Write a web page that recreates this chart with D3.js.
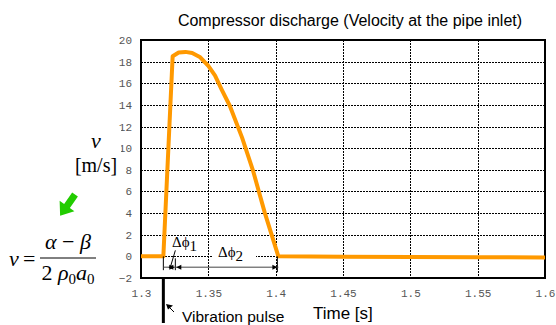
<!DOCTYPE html>
<html><head><meta charset="utf-8">
<script src="https://cdn.jsdelivr.net/npm/d3@7"></script>
<style>body{margin:0;background:#fff}svg{display:block}</style>
</head><body><svg id="c" width="556" height="325"></svg>
<script>
const time = [1.3, 1.3166, 1.3235, 1.328, 1.333, 1.338, 1.344, 1.35, 1.355, 1.36, 1.366, 1.375, 1.383, 1.392, 1.402, 1.45, 1.5, 1.55, 1.6];
const velocity = [0, 0, 18.5, 18.85, 18.9, 18.8, 18.4, 17.6, 16.7, 15.4, 13.9, 11.0, 8.0, 4.0, 0, -0.03, -0.05, -0.08, -0.1];
const xTicks = [1.3, 1.35, 1.4, 1.45, 1.5, 1.55, 1.6];
const yTicks = [-2, 0, 2, 4, 6, 8, 10, 12, 14, 16, 18, 20];
const pulseTime = 1.3166, phi1End = 1.3255, phi2End = 1.402;
const title = "Compressor discharge (Velocity at the pipe inlet)";

const svg = d3.select("#c");
const L = 141, R = 545, T = 40, B = 278;
const x = d3.scaleLinear().domain([1.3, 1.6]).range([L, R]);
const y = d3.scaleLinear().domain([-2, 20]).range([B, T]);

// grid
const g = svg.append("g").attr("shape-rendering", "crispEdges");
g.selectAll(".vg").data(xTicks.slice(1, -1)).join("line")
  .attr("x1", d => Math.round(x(d)) + 0.5).attr("x2", d => Math.round(x(d)) + 0.5).attr("y1", T).attr("y2", B)
  .attr("stroke", "#000").attr("stroke-dasharray", "2,1");
g.selectAll(".hg").data(yTicks.slice(1, -1)).join("line")
  .attr("y1", d => Math.round(y(d)) + 0.5).attr("y2", d => Math.round(y(d)) + 0.5).attr("x1", L).attr("x2", R)
  .attr("stroke", "#000").attr("stroke-dasharray", "2,1");

// axes labels
const mono = "'Liberation Mono', 'Courier New', monospace";
const yAxis = d3.axisLeft(y).tickValues(yTicks).tickSize(0).tickPadding(9).tickFormat(d => d < 0 ? "\u2212" + Math.abs(d) : d);
const ya = svg.append("g").attr("transform", `translate(${L},0)`).call(yAxis);
ya.select(".domain").remove();
ya.selectAll("text").attr("font-family", mono).attr("font-size", 11).attr("fill", "#555");
const xAxis = d3.axisBottom(x).tickValues(xTicks).tickSize(0).tickPadding(11).tickFormat(d => String(d));
const xa = svg.append("g").attr("transform", `translate(0,${B})`).call(xAxis);
xa.select(".domain").remove();
xa.selectAll("text").attr("font-family", mono).attr("font-size", 11).attr("fill", "#555");

// frame
svg.append("rect").attr("x", L).attr("y", T).attr("width", R - L).attr("height", B - T)
  .attr("fill", "none").attr("stroke", "#000").attr("stroke-width", 2);

// data line
const line = d3.line().x((d, i) => x(time[i])).y(d => y(d));
svg.append("path").datum(velocity).attr("d", line)
  .attr("fill", "none").attr("stroke", "#FF9900").attr("stroke-width", 4).attr("stroke-linejoin", "round");

// dimension annotations
const ann = svg.append("g").attr("stroke", "#000").attr("stroke-width", 1);
const dimY = y(-1);
svg.append("rect").attr("x", 212).attr("y", y(0) - 12).attr("width", 44).attr("height", 20).attr("fill", "#fff");
ann.append("line").attr("x1", x(pulseTime)).attr("x2", x(pulseTime)).attr("y1", y(0)).attr("y2", dimY + 3);
ann.append("line").attr("x1", x(phi1End)).attr("x2", x(phi1End)).attr("y1", y(0) + 2).attr("y2", dimY + 3);
ann.append("line").attr("x1", x(phi2End) - 1).attr("x2", x(phi2End) - 1).attr("y1", y(0)).attr("y2", dimY + 5);
ann.append("line").attr("x1", x(pulseTime)).attr("x2", x(phi2End)).attr("y1", dimY).attr("y2", dimY).attr("stroke", "#444");
function arrow(px, dir) {
  svg.append("path").attr("d", `M${px},${dimY} l${-dir * 5},-2.5 l0,5 z`).attr("fill", "#000");
}
arrow(x(pulseTime) + 5, -1); arrow(x(phi1End) - 1, 1); arrow(x(phi1End) + 1, -1); arrow(x(phi2End) - 1, 1);
ann.append("line").attr("x1", x(pulseTime) + 12).attr("y1", y(0) - 6).attr("x2", x(pulseTime) + 7).attr("y2", dimY);

function delta(xp, yp, sub) {
  const t = svg.append("text").attr("x", xp).attr("y", yp)
    .attr("font-family", "'Liberation Serif', 'Times New Roman', serif").attr("font-size", 15).attr("fill", "#000");
  t.append("tspan").text("\u0394\u03d5");
  t.append("tspan").attr("dy", 4).text(sub);
}
delta(172, 247, "1");
delta(218, 257, "2");

// vibration pulse
svg.append("line").attr("x1", x(pulseTime)).attr("x2", x(pulseTime)).attr("y1", B).attr("y2", 323)
  .attr("stroke", "#000").attr("stroke-width", 3);
svg.append("line").attr("x1", 174).attr("y1", 312).attr("x2", 168).attr("y2", 306).attr("stroke", "#000").attr("stroke-width", 1);
svg.append("path").attr("d", "M166,304 l7,1.5 l-5,4 z").attr("fill", "#000");
const sans = "'Liberation Sans', Arial, sans-serif";
svg.append("text").attr("x", 182).attr("y", 322).text("Vibration pulse")
  .attr("font-family", sans).attr("font-size", 15.5).attr("fill", "#000");
svg.append("text").attr("x", 313).attr("y", 319).text("Time [s]")
  .attr("font-family", sans).attr("font-size", 17).attr("fill", "#000");

// title
svg.append("text").attr("x", 350).attr("y", 26).attr("text-anchor", "middle").text(title)
  .attr("font-family", sans).attr("font-size", 16).attr("fill", "#000");

// y label with white box
svg.append("rect").attr("x", 70).attr("y", 126).attr("width", 51).attr("height", 48).attr("fill", "#fff");
const serif = "'Liberation Serif', 'Times New Roman', serif";
svg.append("text").attr("x", 96).attr("y", 148).attr("text-anchor", "middle").text("v")
  .attr("font-family", serif).attr("font-style", "italic").attr("font-size", 22);
svg.append("text").attr("x", 96).attr("y", 172).attr("text-anchor", "middle").text("[m/s]")
  .attr("font-family", serif).attr("font-size", 20);

// green arrow
svg.append("path").attr("transform", "translate(67,206) rotate(35)")
  .attr("d", "M-3.5,-14 L3.5,-14 L3.5,0 L9,0 L0,12 L-9,0 L-3.5,0 Z").attr("fill", "#22CC00");

// formula
const f = svg.append("g").attr("font-family", serif).attr("font-size", 22);
f.append("text").attr("x", 9).attr("y", 266).attr("font-style", "italic").text("v");
f.append("text").attr("x", 23).attr("y", 266).text("=");
f.append("line").attr("x1", 40).attr("x2", 96).attr("y1", 258).attr("y2", 258).attr("stroke", "#000").attr("stroke-width", 1);
const num = f.append("text").attr("x", 68).attr("y", 249).attr("text-anchor", "middle");
num.append("tspan").attr("font-style", "italic").text("\u03b1");
num.append("tspan").text(" \u2212 ");
num.append("tspan").attr("font-style", "italic").text("\u03b2");
const den = f.append("text").attr("x", 68).attr("y", 280).attr("text-anchor", "middle");
den.append("tspan").text("2 ");
den.append("tspan").attr("font-style", "italic").text("\u03c1");
den.append("tspan").attr("font-size", 15).attr("dy", 4).text("0");
den.append("tspan").attr("font-style", "italic").attr("dy", -4).text("a");
den.append("tspan").attr("font-size", 15).attr("dy", 4).text("0");
</script></body></html>
